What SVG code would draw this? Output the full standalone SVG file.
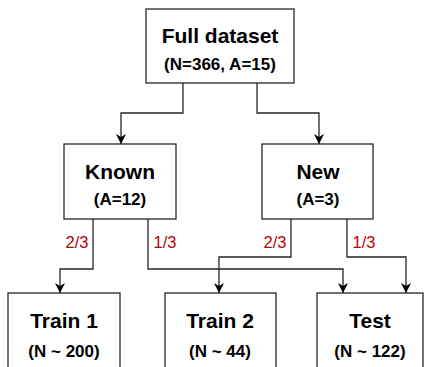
<svg xmlns="http://www.w3.org/2000/svg" width="425" height="367" viewBox="0 0 425 367">
<defs>
<style>
.box{fill:#ffffff;stroke:#262626;stroke-width:1.3}
.t{font-family:"Liberation Sans",Arial,sans-serif;font-weight:bold;font-size:21px;fill:#000;text-anchor:middle}
.s{font-family:"Liberation Sans",Arial,sans-serif;font-weight:bold;font-size:17px;fill:#000;text-anchor:middle}
.lbl{font-family:"Liberation Sans",Arial,sans-serif;font-size:16.5px;fill:#c00000;text-anchor:middle}
.edge{fill:none;stroke:#262626;stroke-width:1.3}
</style>
<marker id="arr" viewBox="0 0 10 10" refX="10" refY="5" markerWidth="10" markerHeight="10" markerUnits="userSpaceOnUse" orient="auto">
<path d="M0,0 L10,5 L0,10 L3,5 Z" fill="#000"/>
</marker>
</defs>
<rect width="425" height="367" fill="#ffffff"/>
<g id="connectors">
<path class="edge" d="M183,83 V113 H121 V144" marker-end="url(#arr)"/>
<path class="edge" d="M257,83 V113 H319 V144" marker-end="url(#arr)"/>
<path class="edge" d="M93,219 V269 H60 V293" marker-end="url(#arr)"/>
<path class="edge" d="M148,219 V269 H343 V293" marker-end="url(#arr)"/>
<path class="edge" d="M291,219 V257 H219 V293" marker-end="url(#arr)"/>
<path class="edge" d="M347,219 V257 H406 V293" marker-end="url(#arr)"/>
<text class="lbl" x="77" y="248">2/3</text>
<text class="lbl" x="165" y="248">1/3</text>
<text class="lbl" x="275" y="248">2/3</text>
<text class="lbl" x="364" y="248">1/3</text>
</g>
<g id="full">
<rect class="box" x="146" y="9" width="148" height="74"/>
<text class="t" x="220" y="43">Full dataset</text>
<text class="s" x="220" y="70">(N=366, A=15)</text>
</g>
<g id="known">
<rect class="box" x="64" y="144" width="112" height="75"/>
<text class="t" x="120" y="179">Known</text>
<text class="s" x="120" y="205">(A=12)</text>
</g>
<g id="new">
<rect class="box" x="262" y="144" width="111" height="75"/>
<text class="t" x="318" y="179">New</text>
<text class="s" x="318" y="205">(A=3)</text>
</g>
<g id="train1">
<rect class="box" x="8" y="293" width="112" height="90"/>
<text class="t" x="64" y="328">Train 1</text>
<text class="s" x="64" y="357">(N ~ 200)</text>
</g>
<g id="train2">
<rect class="box" x="165" y="293" width="111" height="90"/>
<text class="t" x="220" y="328">Train 2</text>
<text class="s" x="220" y="357">(N ~ 44)</text>
</g>
<g id="test">
<rect class="box" x="317" y="293" width="106" height="90"/>
<text class="t" x="370" y="328">Test</text>
<text class="s" x="370" y="357">(N ~ 122)</text>
</g>
</svg>
